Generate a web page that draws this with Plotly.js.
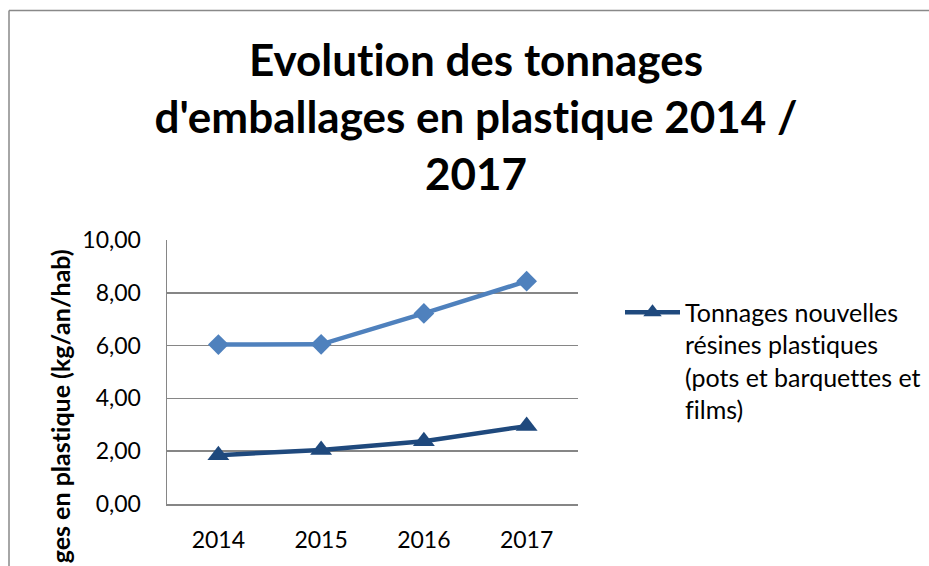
<!DOCTYPE html>
<html>
<head>
<meta charset="utf-8">
<script src="https://cdn.plot.ly/plotly-3.0.1.min.js"></script>
<style>html,body{margin:0;padding:0;background:#fff;}#chart{width:929px;height:566px;}#chart text{font-variant-ligatures:none !important;font-feature-settings:"liga" 0,"clig" 0 !important;}</style>
</head>
<body>
<div id="chart"></div>
<script>
const years = ["2014", "2015", "2016", "2017"];
const totalPlastique = [6.04, 6.05, 7.22, 8.44];
const nouvellesResines = [1.85, 2.05, 2.38, 2.95];
const yTicks = [0, 2, 4, 6, 8, 10];
const titleText = "Evolution des tonnages<br>d'emballages en plastique 2014 /<br>2017";
const legendName = "Tonnages nouvelles<br>résines plastiques<br>(pots et barquettes et<br>films)";
const yTitle = "ges en plastique (kg/an/hab)";

const W = 929, H = 566;
const L = 167, R = 578, T = 239.5, B = 504;
const px = x => (x - L) / (R - L);
const py = y => (B - y) / (B - T);

const traces = [
  {
    x: years, y: nouvellesResines, name: legendName, type: "scatter", mode: "lines+markers",
    line: {color: "#1F497D", width: 4.5},
    marker: {symbol: "triangle-up", size: 19, color: "#1F497D"},
    showlegend: true
  },
  {
    x: years, y: totalPlastique, name: "Total", type: "scatter", mode: "lines+markers",
    line: {color: "#4F81BD", width: 4.5},
    marker: {symbol: "diamond", size: 16, color: "#4F81BD"},
    showlegend: false
  }
];

const layout = {
  width: W, height: H,
  margin: {l: L, r: W - R, t: T, b: H - B, autoexpand: false},
  paper_bgcolor: "#fff", plot_bgcolor: "#fff",
  separators: ",.",
  font: {family: "Lato, 'Open Sans', sans-serif", size: 23, color: "#000"},
  title: {
    text: titleText,
    font: {family: "Lato, sans-serif", size: 44, color: "#000", weight: "bold"},
    x: 476 / W, xanchor: "center", xref: "container",
    y: 1 - 76 / H, yanchor: "top", yref: "container"
  },
  xaxis: {
    type: "category", range: [-0.5, 3.5], showgrid: false, zeroline: false,
    showline: true, linecolor: "#868686", linewidth: 1.5, ticks: "",
    ticklabelstandoff: 15, tickfont: {size: 23}, fixedrange: true
  },
  yaxis: {
    range: [0, 10], tickvals: yTicks, tickformat: ".2f", showgrid: true,
    gridcolor: "#868686", gridwidth: 1.5, zeroline: false,
    showline: true, linecolor: "#868686", linewidth: 1.5, ticks: "",
    ticklabelstandoff: 20, tickfont: {size: 23}, fixedrange: true
  },
  legend: {
    x: px(620), xanchor: "left", y: py(289), yanchor: "top", valign: "top",
    itemwidth: 55,
    font: {size: 25, color: "#000"}, bgcolor: "rgba(0,0,0,0)", tracegroupgap: 0
  },
  annotations: [
    {
      text: yTitle, textangle: -90, xref: "paper", yref: "paper",
      x: px(60), xanchor: "center", y: py(247), yanchor: "top",
      showarrow: false, font: {family: "Lato, sans-serif", size: 25, color: "#000", weight: "bold"}
    }
  ],
  shapes: [
    {type: "line", xref: "paper", yref: "paper", x0: px(9), x1: px(9), y0: py(9.5), y1: py(600), line: {color: "#898989", width: 1.5}},
    {type: "line", xref: "paper", yref: "paper", x0: px(9), x1: px(1000), y0: py(9.5), y1: py(9.5), line: {color: "#898989", width: 1.5}}
  ]
};

Plotly.newPlot("chart", traces, layout, {displayModeBar: false, staticPlot: true});
</script>
</body>
</html>
